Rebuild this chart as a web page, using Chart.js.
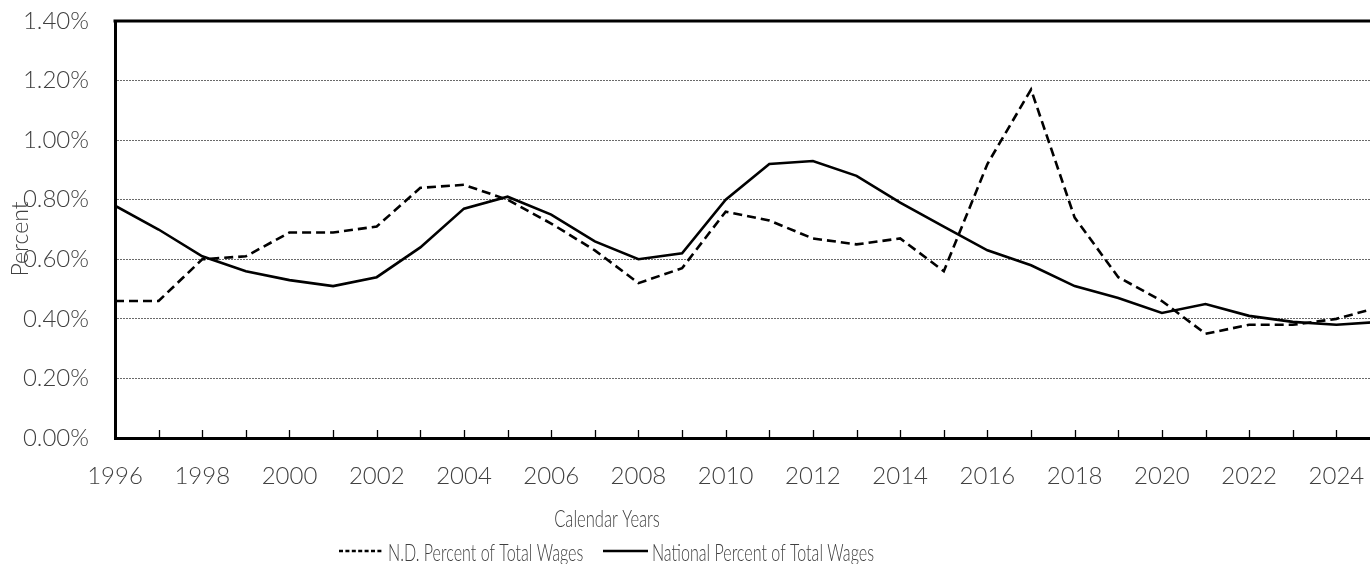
<!DOCTYPE html>
<html>
<head>
<meta charset="utf-8">
<title>Percent of Total Wages</title>
<script src="https://cdn.jsdelivr.net/npm/chart.js@4"></script>
<style>
  html, body { margin: 0; padding: 0; background: #fff; overflow: hidden; }
  #wagesChart { display: block; }
</style>
</head>
<body>
<canvas id="wagesChart" width="1390" height="564"></canvas>
<script>
const years = [1996, 1997, 1998, 1999, 2000, 2001, 2002, 2003, 2004, 2005,
  2006, 2007, 2008, 2009, 2010, 2011, 2012, 2013, 2014, 2015,
  2016, 2017, 2018, 2019, 2020, 2021, 2022, 2023, 2024, 2025];

// N.D. share of total wages (percent)
const ndPct = [0.46, 0.46, 0.60, 0.61, 0.69, 0.69, 0.71, 0.84, 0.85, 0.80,
  0.72, 0.63, 0.52, 0.57, 0.76, 0.73, 0.67, 0.65, 0.67, 0.56,
  0.92, 1.17, 0.74, 0.54, 0.46, 0.35, 0.38, 0.38, 0.40, 0.44];

// national share of total wages (percent)
const nationalPct = [0.78, 0.70, 0.61, 0.56, 0.53, 0.51, 0.54, 0.64, 0.77, 0.81,
  0.75, 0.66, 0.60, 0.62, 0.80, 0.92, 0.93, 0.88, 0.79, 0.71,
  0.63, 0.58, 0.51, 0.47, 0.42, 0.45, 0.41, 0.39, 0.38, 0.39];

const yMax = 1.4;
const yStep = 0.2;

const textColor = "#404040";
const tickFont = { family: "Lato", size: 24, weight: "300" };

// axis titles and legend text, optionally squeezed horizontally
function drawTitle(ctx, text, x, y, size, sx, align) {
  ctx.save();
  ctx.font = "300 " + size + "px Lato, sans-serif";
  ctx.fillStyle = textColor;
  ctx.textBaseline = "middle";
  const w = ctx.measureText(text).width * sx;
  const left = align === "center" ? x - w / 2 : x;
  ctx.translate(left, y);
  ctx.scale(sx, 1);
  ctx.textAlign = "left";
  ctx.fillText(text, 0, 0);
  ctx.restore();
  return w;
}

const framePlugin = {
  id: "frame",
  afterDraw(chart) {
    const { ctx, chartArea: a, scales } = chart;
    const x = scales.x;
    ctx.save();

    // year tick marks pointing up from the x axis
    ctx.strokeStyle = "#000";
    ctx.lineWidth = 1.3;
    ctx.beginPath();
    years.slice(1).forEach(function (yr) {
      const px = Math.round(x.getPixelForValue(yr)) + 0.5;
      ctx.moveTo(px, a.bottom);
      ctx.lineTo(px, a.bottom - 8);
    });
    ctx.stroke();

    // top edge of the plot box
    ctx.lineWidth = 3;
    ctx.beginPath();
    ctx.moveTo(a.left - 1.5, a.top);
    ctx.lineTo(a.right, a.top);
    ctx.stroke();
    ctx.restore();

    // axis titles
    drawTitle(ctx, "Calendar Years", 607, 519, 24, 0.69, "center");
    ctx.save();
    ctx.translate(21, 239);
    ctx.rotate(-Math.PI / 2);
    drawTitle(ctx, "Percent", 0, 0, 23, 1.0, "center");
    ctx.restore();

    // legend
    const entries = [
      { ds: chart.data.datasets[0], x0: 339, x1: 383, tx: 388, dash: [4, 2.4] },
      { ds: chart.data.datasets[1], x0: 603, x1: 648, tx: 652, dash: [] },
    ];
    entries.forEach(function (e) {
      ctx.save();
      ctx.strokeStyle = e.ds.borderColor;
      ctx.lineWidth = e.ds.borderWidth;
      ctx.setLineDash(e.dash);
      ctx.beginPath();
      ctx.moveTo(e.x0, 551);
      ctx.lineTo(e.x1, 551);
      ctx.stroke();
      ctx.restore();
      drawTitle(ctx, e.ds.label, e.tx, 553, 24, 0.67, "left");
    });
  },
};

new Chart(document.getElementById("wagesChart"), {
  type: "line",
  data: {
    datasets: [
      {
        label: "N.D. Percent of Total Wages",
        data: years.map(function (yr, i) { return { x: yr, y: ndPct[i] }; }),
        borderColor: "#000",
        borderWidth: 2.6,
        borderDash: [9, 5],
        pointRadius: 0,
        tension: 0,
      },
      {
        label: "National Percent of Total Wages",
        data: years.map(function (yr, i) { return { x: yr, y: nationalPct[i] }; }),
        borderColor: "#000",
        borderWidth: 2.6,
        pointRadius: 0,
        tension: 0,
      },
    ],
  },
  options: {
    responsive: false,
    animation: false,
    devicePixelRatio: 1,
    layout: {
      padding: { left: 0, top: 21, right: 10, bottom: 0 },
    },
    plugins: {
      legend: { display: false },
      tooltip: { enabled: false },
    },
    scales: {
      x: {
        type: "linear",
        min: years[0],
        max: years[years.length - 1],
        afterFit: function (scale) { scale.height = 126; },
        grid: {
          display: true,
          drawOnChartArea: false,
          drawTicks: true,
          tickLength: 24,
          tickColor: "rgba(0,0,0,0)",
        },
        border: { display: true, color: "#000", width: 3 },
        ticks: {
          stepSize: 1,
          autoSkip: false,
          maxRotation: 0,
          padding: 0,
          color: textColor,
          font: tickFont,
          callback: function (value) {
            return value % 2 === 0 ? String(value) : "";
          },
        },
      },
      y: {
        min: 0,
        max: yMax,
        afterFit: function (scale) { scale.width = 115; },
        grid: {
          drawTicks: true,
          tickLength: 26,
          tickColor: "rgba(0,0,0,0)",
          lineWidth: 1,
          color: function (ctx) {
            const v = ctx.tick.value;
            return v <= 0.001 || v >= yMax - 0.001 ? "rgba(0,0,0,0)" : "#6a6a6a";
          },
        },
        border: { display: true, color: "#000", width: 3, dash: [2, 1] },
        ticks: {
          stepSize: yStep,
          padding: 0,
          color: textColor,
          font: tickFont,
          callback: function (value) {
            return value.toFixed(2) + "%";
          },
        },
      },
    },
  },
  plugins: [framePlugin],
});
</script>
</body>
</html>
